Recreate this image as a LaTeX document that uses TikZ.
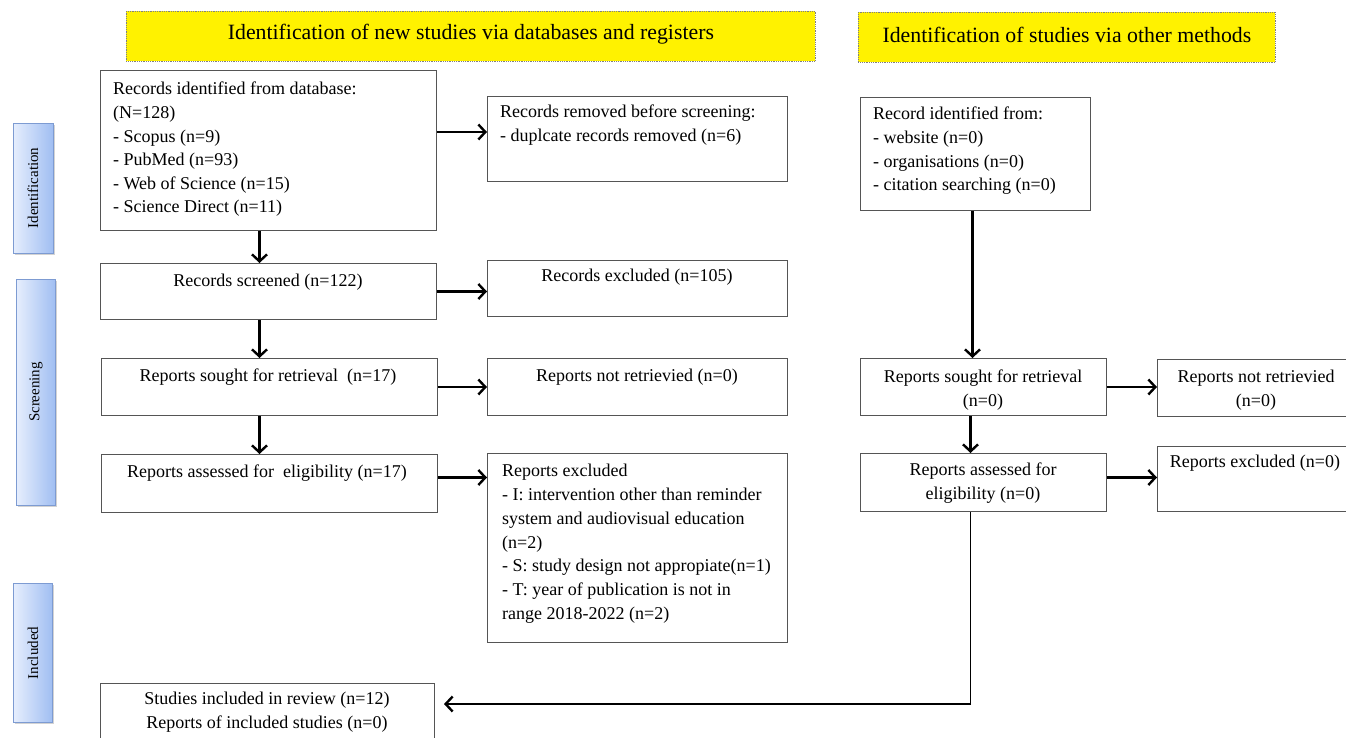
\documentclass[tikz,border=0pt]{standalone}
\usepackage{fontspec}
\setmainfont{Liberation Serif}
\usetikzlibrary{arrows.meta,shadows}
\definecolor{boxline}{RGB}{85,85,85}
\definecolor{sideline}{RGB}{125,155,210}
\definecolor{sidelight}{RGB}{230,238,253}
\definecolor{sidedark}{RGB}{160,190,242}
\begin{document}
\begin{tikzpicture}[x=1pt,y=-1pt,
  box/.style={draw=boxline, line width=1pt, fill=white, inner sep=0pt, anchor=north west},
  txt/.style={inner sep=0pt, font=\fontsize{18}{23.6}\selectfont},
  arr/.style={line width=2.4pt, -{Straight Barb[length=7pt,width=15pt,line width=2.4pt]}},
  hdr/.style={fill=yellow, draw=gray, densely dotted, line width=0.8pt, inner sep=0pt, anchor=north west},
  hdrtxt/.style={inner sep=0pt, font=\fontsize{21.8}{24}\selectfont},
  side/.style={rotate=90, draw=sideline, line width=0.8pt, left color=sidelight, right color=sidedark,
    font=\fontsize{15}{17}\selectfont, inner sep=0pt,
    drop shadow={opacity=0.35, shadow xshift=1.5pt, shadow yshift=-1.5pt}}]
\useasboundingbox (0,0) rectangle (1346,737);

% headers
\node[hdr, minimum width=689pt, minimum height=50pt] (H1) at (126,11) {};
\node[hdrtxt] (H1t) at ([yshift=2pt]H1.center) {Identification of new studies via databases and registers};
\node[hdr, minimum width=417pt, minimum height=50pt] (H2) at (858,12) {};
\node[hdrtxt] (H2t) at ([yshift=2pt]H2.center) {Identification of studies via other methods};

% side labels
\node[side, minimum width=130pt, minimum height=40pt] (S1) at (33,188) {Identification};
\node[side, minimum width=226pt, minimum height=39pt] (S2) at (36,392) {Screening};
\node[side, minimum width=139pt, minimum height=39pt] (S3) at (33,653) {Included};

% boxes left column
\node[box, minimum width=336pt, minimum height=160pt] (A) at (100,70) {};
\node[txt, align=left, anchor=north west] (At) at (113,82) {Records identified from database:\\(N=128)\\- Scopus (n=9)\\- PubMed (n=93)\\- Web of Science (n=15)\\- Science Direct (n=11)};
\node[box, minimum width=300pt, minimum height=85pt] (B) at (487,96) {};
\node[txt, align=left, anchor=north west] (Bt) at (500,105) {Records removed before screening:\\- duplcate records removed (n=6)};

\node[box, minimum width=336pt, minimum height=56pt] (C) at (100,263) {};
\node[txt] (Ct) at (268,282) {Records screened (n=122)};
\node[box, minimum width=300pt, minimum height=56pt] (D) at (487,260) {};
\node[txt] (Dt) at (637,277) {Records excluded (n=105)};

\node[box, minimum width=336pt, minimum height=57pt] (E) at (101,358) {};
\node[txt] (Et) at (268,377) {Reports sought for retrieval\ \ (n=17)};
\node[box, minimum width=300pt, minimum height=57pt] (F) at (487,358) {};
\node[txt] (Ft) at (637,377) {Reports not retrievied (n=0)};

\node[box, minimum width=336pt, minimum height=58pt] (G) at (101,454) {};
\node[txt] (Gt) at (267,473) {Reports assessed for\ \ eligibility (n=17)};
\node[box, minimum width=300pt, minimum height=189pt] (H) at (487,453) {};
\node[txt, align=left, anchor=north west, font=\fontsize{18}{23.8}\selectfont] (Ht) at (502,464) {Reports excluded\\- I: intervention other than reminder\\system and audiovisual education\\(n=2)\\- S: study design not appropiate(n=1)\\- T: year of publication is not in\\range 2018-2022 (n=2)};

\node[box, minimum width=334pt, minimum height=70pt] (I) at (100,683) {};
\node[txt, align=center] (It) at (267,712) {Studies included in review (n=12)\\Reports of included studies (n=0)};

% right column
\node[box, minimum width=230pt, minimum height=113pt] (J) at (860,97) {};
\node[txt, align=left, anchor=north west] (Jt) at (873,107) {Record identified from:\\- website (n=0)\\- organisations (n=0)\\- citation searching (n=0)};
\node[box, minimum width=246pt, minimum height=57pt] (K) at (860,358) {};
\node[txt, align=center] (Kt) at (983,390) {Reports sought for retrieval\\(n=0)};
\node[box, minimum width=210pt, minimum height=57pt] (L) at (1157,359) {};
\node[txt, align=center] (Lt) at (1256,390) {Reports not retrievied\\(n=0)};
\node[box, minimum width=246pt, minimum height=58pt] (M) at (860,453) {};
\node[txt, align=center] (Mt) at (983,483) {Reports assessed for\\eligibility (n=0)};
\node[box, minimum width=210pt, minimum height=65pt] (N) at (1157,446) {};
\node[txt] (Nt) at (1255,463) {Reports excluded (n=0)};

% connectors
\draw[arr] ([yshift=-62pt]A.north east) -- ([yshift=-62pt]A.north east -| B.west);
\draw[arr] ([xshift=-9pt]A.south) -- ([xshift=-9pt]A.south |- C.north);
\draw[arr] (C.east) -- (C.east -| D.west);
\draw[arr] ([xshift=-9pt]C.south) -- ([xshift=-9pt]C.south |- E.north);
\draw[arr] (E.east) -- (E.east -| F.west);
\draw[arr] ([xshift=-10pt]E.south) -- ([xshift=-10pt]E.south |- G.north);
\draw[arr] ([yshift=6pt]G.east) -- ([yshift=6pt]G.east -| H.west);

\draw[arr] ([xshift=-3pt]J.south) -- ([xshift=-3pt]J.south |- K.north);
\draw[arr] (K.east) -- (K.east -| L.west);
\draw[arr] ([xshift=-13pt]K.south) -- ([xshift=-13pt]K.south |- M.north);
\draw[arr] ([yshift=5pt]M.east) -- ([yshift=5pt]M.east -| N.west);

\coordinate (turn) at ([xshift=-13pt,yshift=-192pt]M.south);
\coordinate (inend) at (I.east |- turn);
\draw[line width=1pt] ([xshift=-13pt]M.south) -- ([yshift=-0.5pt]turn);
\draw[arr] ([xshift=0.5pt]turn) -- ([xshift=9pt]inend);
\end{tikzpicture}
\end{document}
